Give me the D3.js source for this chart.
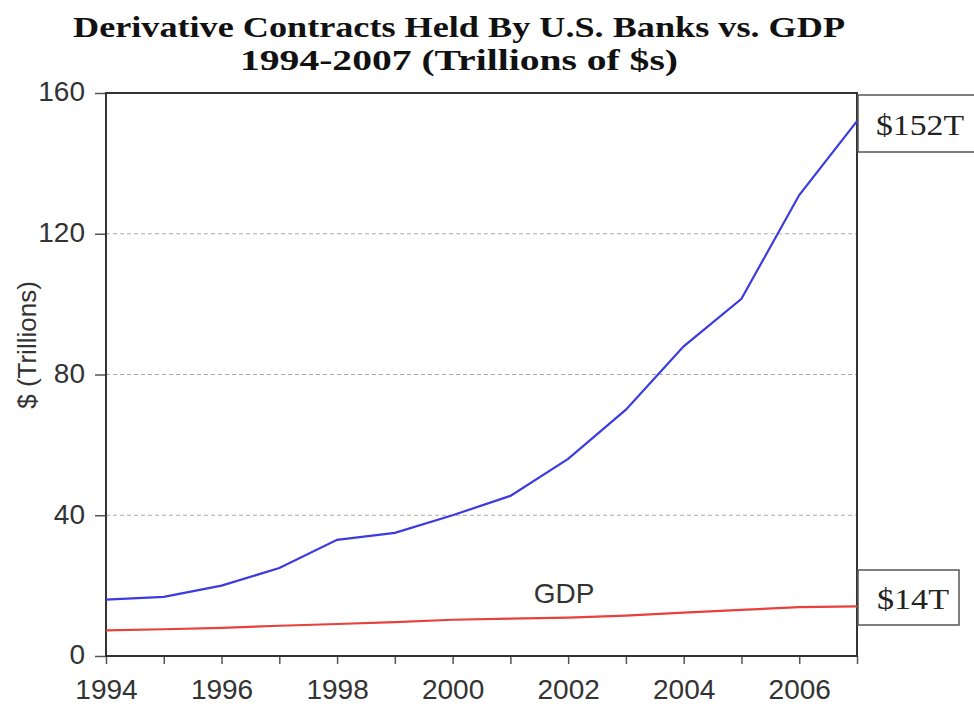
<!DOCTYPE html>
<html><head><meta charset="utf-8">
<script src="https://cdn.jsdelivr.net/npm/d3@7"></script>
<style>body{margin:0;background:#fff}svg{display:block}</style>
</head><body>
<svg id="c" width="974" height="706"></svg>
<script>
const years = [1994,1995,1996,1997,1998,1999,2000,2001,2002,2003,2004,2005,2006,2007];
const derivatives = [16,16.8,20,25,33,35,40,45.5,56,70,88,101.5,131,152];
const gdp = [7.3,7.6,8.0,8.6,9.1,9.6,10.3,10.6,10.9,11.5,12.3,13.1,13.9,14.1];
const yTicks = [0,40,80,120,160];
const gridTicks = [40,80,120];
const xLabelYears = [1994,1996,1998,2000,2002,2004,2006];
const titleLines = ["Derivative Contracts Held By U.S. Banks vs. GDP","1994-2007 (Trillions of $s)"];
const endLabels = ["$152T","$14T"];

const svg = d3.select("#c");
const L=106, R=857, T=93, B=656;
const x = d3.scaleLinear().domain([1994,2007]).range([L,R]);
const y = d3.scaleLinear().domain([0,160]).range([B,T]);

// title
svg.append("text").attr("x",459).attr("y",37).attr("text-anchor","middle")
  .attr("font-family","Liberation Serif").attr("font-weight","bold").attr("font-size",29)
  .attr("textLength",772).attr("lengthAdjust","spacingAndGlyphs").attr("fill","#111").text(titleLines[0]);
svg.append("text").attr("x",459).attr("y",70).attr("text-anchor","middle")
  .attr("font-family","Liberation Serif").attr("font-weight","bold").attr("font-size",29)
  .attr("textLength",438).attr("lengthAdjust","spacingAndGlyphs").attr("fill","#111").text(titleLines[1]);

// gridlines
svg.append("g").selectAll("line").data(gridTicks).join("line")
  .attr("x1",L).attr("x2",R).attr("y1",d=>y(d)).attr("y2",d=>y(d))
  .attr("stroke","#aaa").attr("stroke-width",1.2).attr("stroke-dasharray","4,3");

// y axis
const ya = svg.append("g").attr("transform",`translate(${L},0)`)
  .call(d3.axisLeft(y).tickValues(yTicks).tickSize(11).tickPadding(10).tickFormat(d3.format("d")));
ya.select(".domain").remove();
ya.selectAll("line").attr("stroke","#555").attr("stroke-width",1.5);
ya.selectAll("text").attr("font-family","Liberation Sans").attr("font-size",28).attr("fill","#333")
  .attr("dy","0.28em");

// x axis
const xa = svg.append("g").attr("transform",`translate(0,${B})`)
  .call(d3.axisBottom(x).tickValues(years).tickSize(8).tickPadding(15)
    .tickFormat(d=>xLabelYears.includes(d)?String(d):""));
xa.select(".domain").remove();
xa.selectAll("line").attr("stroke","#555").attr("stroke-width",1.5);
xa.selectAll("text").attr("font-family","Liberation Sans").attr("font-size",28).attr("fill","#333");

// y title
svg.append("text").attr("transform","translate(36,345) rotate(-90)").attr("text-anchor","middle")
  .attr("font-family","Liberation Sans").attr("font-size",26).attr("fill","#333").text("$ (Trillions)");

// frame
svg.append("rect").attr("x",L).attr("y",T).attr("width",R-L).attr("height",B-T)
  .attr("fill","none").attr("stroke","#333").attr("stroke-width",2);

// lines
const line = d3.line().x((d,i)=>x(years[i])).y(d=>y(d));
svg.append("path").datum(gdp).attr("d",line).attr("fill","none").attr("stroke","#e8403a").attr("stroke-width",2.2);
svg.append("path").datum(derivatives).attr("d",line).attr("fill","none").attr("stroke","#3b3be0").attr("stroke-width",2.2);

// GDP label
svg.append("text").attr("x",564).attr("y",603).attr("text-anchor","middle")
  .attr("font-family","Liberation Sans").attr("font-size",28).attr("fill","#333").text("GDP");

// end labels
svg.append("rect").attr("x",858).attr("y",95).attr("width",130).attr("height",57)
  .attr("fill","#fff").attr("stroke","#555").attr("stroke-width",1.5);
svg.append("text").attr("x",920).attr("y",135).attr("text-anchor","middle")
  .attr("font-family","Liberation Serif").attr("font-size",29).attr("fill","#222")
  .attr("textLength",88).attr("lengthAdjust","spacingAndGlyphs").text(endLabels[0]);
svg.append("rect").attr("x",858).attr("y",570).attr("width",101).attr("height",55)
  .attr("fill","#fff").attr("stroke","#555").attr("stroke-width",1.5);
svg.append("text").attr("x",913).attr("y",609).attr("text-anchor","middle")
  .attr("font-family","Liberation Serif").attr("font-size",29).attr("fill","#222")
  .attr("textLength",72).attr("lengthAdjust","spacingAndGlyphs").text(endLabels[1]);
</script>
</body></html>
